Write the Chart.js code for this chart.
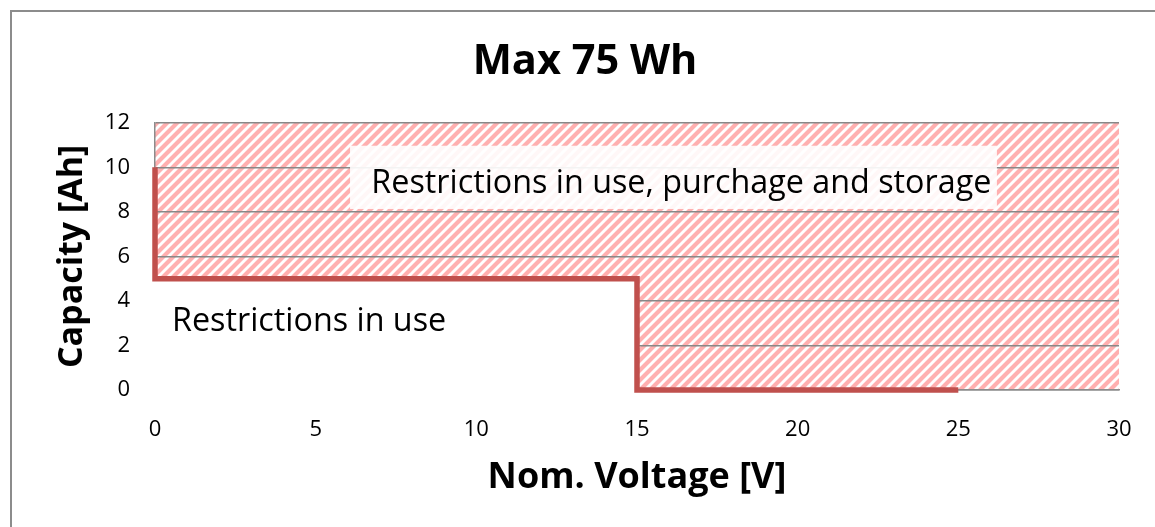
<!DOCTYPE html>
<html>
<head>
<meta charset="utf-8">
<script src="https://cdn.jsdelivr.net/npm/chart.js@4.4.1/dist/chart.umd.min.js"></script>
<style>
html, body { margin: 0; padding: 0; background: #fff; }
</style>
</head>
<body>
<canvas id="myChart" width="1155" height="527"></canvas>
<script>
// limit line for max 75 Wh
const limitVoltage = [0, 0, 15, 15, 25];
const limitCapacity = [10, 5, 5, 0, 0];
// lower edge of the hatched zone (restrictions in use, purchage and storage)
const hatchVoltage = [0, 15, 15, 30];
const hatchCapacity = [5, 5, 0, 0];
// zone with restrictions in use only
const useVoltage = [0, 15, 15];
const useCapacity = [5, 5, 0];
const xTicks = [0, 5, 10, 15, 20, 25, 30];
const yTicks = [0, 2, 4, 6, 8, 10, 12];
const zoneLabels = ['Restrictions in use, purchage and storage', 'Restrictions in use'];

Chart.defaults.font.family = "'Open Sans', sans-serif";
Chart.defaults.color = '#000';

function makeHatch() {
    const c = document.createElement('canvas');
    c.width = 10;
    c.height = 10;
    const g = c.getContext('2d');
    g.fillStyle = '#fff';
    g.fillRect(0, 0, 10, 10);
    g.strokeStyle = '#ffb0b0';
    g.lineWidth = 4.2;
    g.beginPath();
    g.moveTo(-5, 5); g.lineTo(5, -5);
    g.moveTo(0, 10); g.lineTo(10, 0);
    g.moveTo(5, 15); g.lineTo(15, 5);
    g.stroke();
    return g.createPattern(c, 'repeat');
}

const toPoints = (xs, ys) => xs.map((v, i) => ({ x: v, y: ys[i] }));

// outer frame of the chart object
const frame = {
    id: 'frame',
    beforeDraw(chart) {
        const ctx = chart.ctx;
        ctx.save();
        ctx.strokeStyle = '#8c8c8c';
        ctx.lineWidth = 2;
        ctx.strokeRect(11, 11, chart.width + 50, chart.height + 50);
        ctx.restore();
    }
};

// white zone drawn over the grid, like the excel area series
const useZone = {
    id: 'useZone',
    beforeDatasetsDraw(chart) {
        const { ctx, scales: { x, y } } = chart;
        ctx.save();
        ctx.fillStyle = '#fff';
        ctx.strokeStyle = '#fff';
        ctx.lineWidth = 4;
        ctx.beginPath();
        ctx.moveTo(x.getPixelForValue(useVoltage[0]), y.getPixelForValue(0));
        useVoltage.forEach((v, i) => ctx.lineTo(x.getPixelForValue(v), y.getPixelForValue(useCapacity[i])));
        ctx.lineTo(x.getPixelForValue(useVoltage[useVoltage.length - 1]), y.getPixelForValue(0));
        ctx.closePath();
        ctx.fill();
        ctx.stroke();
        ctx.restore();
    }
};

// text boxes inside the plot
const zoneText = {
    id: 'zoneText',
    afterDatasetsDraw(chart) {
        const { ctx, scales: { x, y } } = chart;
        ctx.save();
        // translucent box behind the upper label
        const bx1 = x.getPixelForValue(6.07), bx2 = x.getPixelForValue(26.2);
        const by1 = y.getPixelForValue(10.97), by2 = y.getPixelForValue(8.13);
        ctx.fillStyle = 'rgba(255,255,255,0.9)';
        ctx.fillRect(bx1, by1, bx2 - bx1, by2 - by1);
        ctx.fillStyle = '#000';
        ctx.font = "32.3px 'Open Sans'";
        ctx.textBaseline = 'middle';
        ctx.textAlign = 'center';
        ctx.fillText(zoneLabels[0], x.getPixelForValue(16.38), y.getPixelForValue(9.25));
        ctx.textAlign = 'left';
        ctx.fillText(zoneLabels[1], x.getPixelForValue(0.53), y.getPixelForValue(3.05));
        ctx.restore();
    }
};

const ctx = document.getElementById('myChart').getContext('2d');
const myChart = new Chart(ctx, {
    type: 'line',
    data: {
        datasets: [{
            label: 'Restrictions in use, purchage and storage',
            data: toPoints(hatchVoltage, hatchCapacity),
            borderColor: 'rgba(0,0,0,0)',
            borderWidth: 0,
            pointRadius: 0,
            backgroundColor: makeHatch(),
            fill: 'end'
        }, {
            label: 'Max 75 Wh',
            data: toPoints(limitVoltage, limitCapacity),
            borderColor: '#c0504d',
            borderWidth: 5.5,
            borderJoinStyle: 'miter',
            borderCapStyle: 'butt',
            pointRadius: 0,
            fill: false,
            clip: 6
        }]
    },
    options: {
        responsive: false,
        animation: false,
        devicePixelRatio: 1,
        layout: { padding: { left: 15, right: 0, top: 0, bottom: 0 } },
        plugins: {
            legend: { display: false },
            tooltip: { enabled: false },
            filler: { drawTime: 'beforeDraw' },
            title: {
                display: true,
                text: 'Max 75 Wh',
                color: '#000',
                font: { size: 41.5, weight: 'bold' },
                padding: { top: 37, bottom: 36 }
            }
        },
        scales: {
            x: {
                type: 'linear',
                min: 0,
                max: 30,
                afterBuildTicks: s => { s.ticks = xTicks.map(v => ({ value: v })); },
                afterFit: s => { s.height = 137; s.paddingRight = 36; },
                grid: { display: false },
                border: { display: true, color: '#8c8c8c', width: 1.5 },
                ticks: { padding: 19, font: { size: 22 } },
                title: {
                    display: true,
                    text: 'Nom. Voltage [V]',
                    font: { size: 36, weight: 'bold' },
                    padding: { top: 0, bottom: 28 }
                }
            },
            y: {
                type: 'linear',
                min: 0,
                max: 12,
                afterBuildTicks: s => { s.ticks = yTicks.map(v => ({ value: v })); },
                afterFit: s => { s.width = 140; },
                grid: { color: '#888888', lineWidth: 1.5, drawTicks: false },
                border: { display: true, color: '#8c8c8c', width: 1.5 },
                ticks: { padding: 25, font: { size: 22 } },
                title: {
                    display: true,
                    text: 'Capacity [Ah]',
                    font: { size: 34, weight: 'bold' },
                    padding: { top: 37, bottom: 0 }
                }
            }
        }
    },
    plugins: [frame, useZone, zoneText]
});
</script>
</body>
</html>
